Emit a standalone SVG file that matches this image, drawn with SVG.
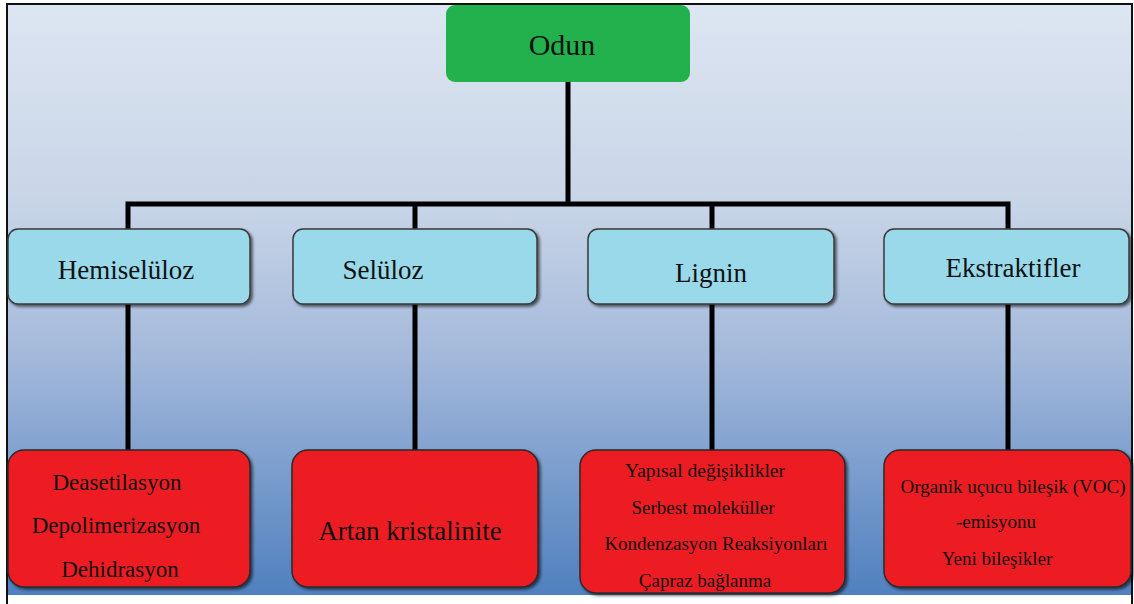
<svg xmlns="http://www.w3.org/2000/svg" width="1134" height="604" viewBox="0 0 1134 604">
  <defs>
    <linearGradient id="bg" x1="0" y1="0" x2="0" y2="1">
      <stop offset="0" stop-color="#dde6f2"/>
      <stop offset="0.35" stop-color="#c7d4e7"/>
      <stop offset="0.6" stop-color="#a3b8da"/>
      <stop offset="1" stop-color="#4f80bf"/>
    </linearGradient>
    <filter id="sh" x="-10%" y="-10%" width="120%" height="130%">
      <feGaussianBlur in="SourceAlpha" stdDeviation="1.5"/>
      <feOffset dx="2" dy="2" result="b"/>
      <feComponentTransfer><feFuncA type="linear" slope="0.6"/></feComponentTransfer>
      <feMerge><feMergeNode/><feMergeNode in="SourceGraphic"/></feMerge>
    </filter>
  </defs>
  <style>
    .t{font-family:"Liberation Serif","DejaVu Serif",serif;fill:#111;text-anchor:middle}
    .mid{fill:#99d9ea;stroke:#3a3a3a;stroke-width:1.5;filter:url(#sh)}
    .leaf{fill:#ed1c24;stroke:#2a2a2a;stroke-width:1.5;filter:url(#sh)}
    .ln{stroke:#000;stroke-width:5;fill:none}
  </style>
  <rect x="0" y="0" width="1134" height="604" fill="#ffffff"/>
  <rect x="7" y="4" width="1125" height="591" fill="url(#bg)"/>
  <path d="M7,604 V4 H1132 V604" fill="none" stroke="#111" stroke-width="2"/>

  <g id="connectors">
    <path class="ln" d="M568,82 V204"/>
    <path class="ln" d="M128,229 V204 H1008 V229"/>
    <path class="ln" d="M415,204 V229"/>
    <path class="ln" d="M712,204 V229"/>
    <path class="ln" d="M128,304 V450"/>
    <path class="ln" d="M415,304 V450"/>
    <path class="ln" d="M712,304 V450"/>
    <path class="ln" d="M1008,304 V450"/>
  </g>

  <g id="odun">
    <rect x="446" y="5" width="244" height="77" rx="9" fill="#22b14c"/>
    <text class="t" x="562" y="55" font-size="30">Odun</text>
  </g>

  <g id="hemiseluloz">
    <rect class="mid" x="8" y="229" width="242" height="75" rx="10"/>
    <text class="t" x="126" y="279" font-size="27">Hemiselüloz</text>
  </g>
  <g id="seluloz">
    <rect class="mid" x="293" y="229" width="244" height="75" rx="10"/>
    <text class="t" x="383" y="279" font-size="27">Selüloz</text>
  </g>
  <g id="lignin">
    <rect class="mid" x="588" y="229" width="246" height="75" rx="10"/>
    <text class="t" x="711" y="282" font-size="27">Lignin</text>
  </g>
  <g id="ekstraktifler">
    <rect class="mid" x="884" y="229" width="245" height="75" rx="10"/>
    <text class="t" x="1013" y="277" font-size="27">Ekstraktifler</text>
  </g>

  <g id="hemiseluloz-etki">
    <rect class="leaf" x="8" y="450" width="242" height="137" rx="16"/>
    <text class="t" x="117" y="490" font-size="23">Deasetilasyon</text>
    <text class="t" x="116" y="533" font-size="23">Depolimerizasyon</text>
    <text class="t" x="120" y="577" font-size="23">Dehidrasyon</text>
  </g>
  <g id="seluloz-etki">
    <rect class="leaf" x="292" y="450" width="246" height="137" rx="16"/>
    <text class="t" x="410" y="540" font-size="27">Artan kristalinite</text>
  </g>
  <g id="lignin-etki">
    <rect class="leaf" x="580" y="450" width="265" height="143" rx="16"/>
    <text class="t" x="705" y="477" font-size="19.5">Yapısal değişiklikler</text>
    <text class="t" x="703" y="514" font-size="19">Serbest moleküller</text>
    <text class="t" x="716" y="550" font-size="19">Kondenzasyon Reaksiyonları</text>
    <text class="t" x="705" y="587" font-size="19">Çapraz bağlanma</text>
  </g>
  <g id="ekstraktifler-etki">
    <rect class="leaf" x="884" y="450" width="247" height="137" rx="16"/>
    <text class="t" x="1013" y="493" font-size="19">Organik uçucu bileşik (VOC)</text>
    <text class="t" x="996" y="528" font-size="19">-emisyonu</text>
    <text class="t" x="997" y="565" font-size="19">Yeni bileşikler</text>
  </g>
</svg>
